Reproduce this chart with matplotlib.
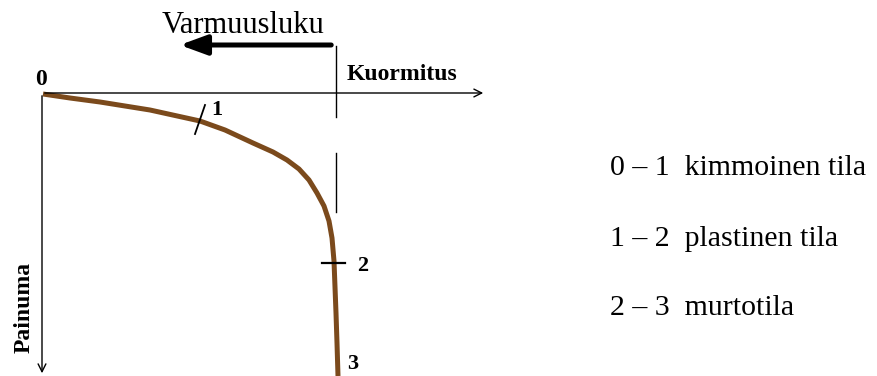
import matplotlib
matplotlib.use("Agg")
import matplotlib.pyplot as plt
from matplotlib.patches import FancyArrowPatch

# Load–deflection curve (load to the right, deflection downward), origin at point 0
load = [1, 28, 58, 108, 158, 183, 211, 231, 245, 257, 267, 275, 282, 287, 290, 292, 294, 295, 296]
deflection = [1, 5, 9, 17, 28, 37, 50, 59, 67, 76, 87, 100, 113, 128, 145, 168, 220, 250, 283]

point_labels = ["0", "1", "2", "3"]
legend_rows = ["0 – 1  kimmoinen tila", "1 – 2  plastinen tila", "2 – 3  murtotila"]

W, H = 877, 376
fig = plt.figure(figsize=(W / 100, H / 100), dpi=100)
ax = fig.add_axes([0, 0, 1, 1])
ax.set_xlim(-42, W - 42)
ax.set_ylim(H - 93, -93)
ax.axis("off")

serif = ["Liberation Serif", "DejaVu Serif"]
brown = "#7b4a1c"

# axes with open arrow heads
ax.annotate("", xy=(444, 0), xytext=(0, 0),
            arrowprops=dict(arrowstyle="->", lw=1.0, color="black", mutation_scale=14))
ax.annotate("", xy=(0, 283), xytext=(0, 0),
            arrowprops=dict(arrowstyle="->", lw=1.0, color="black", mutation_scale=14))

# vertical marker at the failure load
ax.plot([294, 294], [-47, 24], color="black", lw=1.0)
ax.plot([294, 294], [60, 119], color="black", lw=1.0)

# safety factor arrow
ax.add_patch(FancyArrowPatch((292, -48), (135, -48), arrowstyle="-|>,head_length=0.9,head_width=0.33",
                             mutation_scale=18, lw=3.6, color="black"))
ax.text(201, -60, "Varmuusluku", fontsize=22, family=serif, ha="center", va="baseline")
ax.text(305, -13, "Kuormitus", fontsize=17, family=serif, weight="bold", ha="left", va="baseline")
ax.text(-18, 214, "Painuma", fontsize=17, family=serif, weight="bold", rotation=90,
        ha="center", va="center")

# curve
ax.plot(load, deflection, color=brown, lw=3.6, solid_capstyle="butt", solid_joinstyle="round")

# state limit marks
ax.plot([153, 163], [41, 12], color="black", lw=1.3)
ax.plot([280, 303], [170, 170], color="black", lw=1.6)

ax.text(-1, -8, point_labels[0], fontsize=17, family=serif, weight="bold", ha="center", va="baseline")
ax.text(175, 22, point_labels[1], fontsize=16, family=serif, weight="bold", ha="center", va="baseline")
ax.text(321, 178, point_labels[2], fontsize=16, family=serif, weight="bold", ha="center", va="baseline")
ax.text(311, 276, point_labels[3], fontsize=16, family=serif, weight="bold", ha="center", va="baseline")

legend_baselines = [82, 153, 222]
for row, base in zip(legend_rows, legend_baselines):
    ax.text(568, base, row, fontsize=21.5, family=serif, ha="left", va="baseline")

fig.savefig("out.png", dpi=100)
